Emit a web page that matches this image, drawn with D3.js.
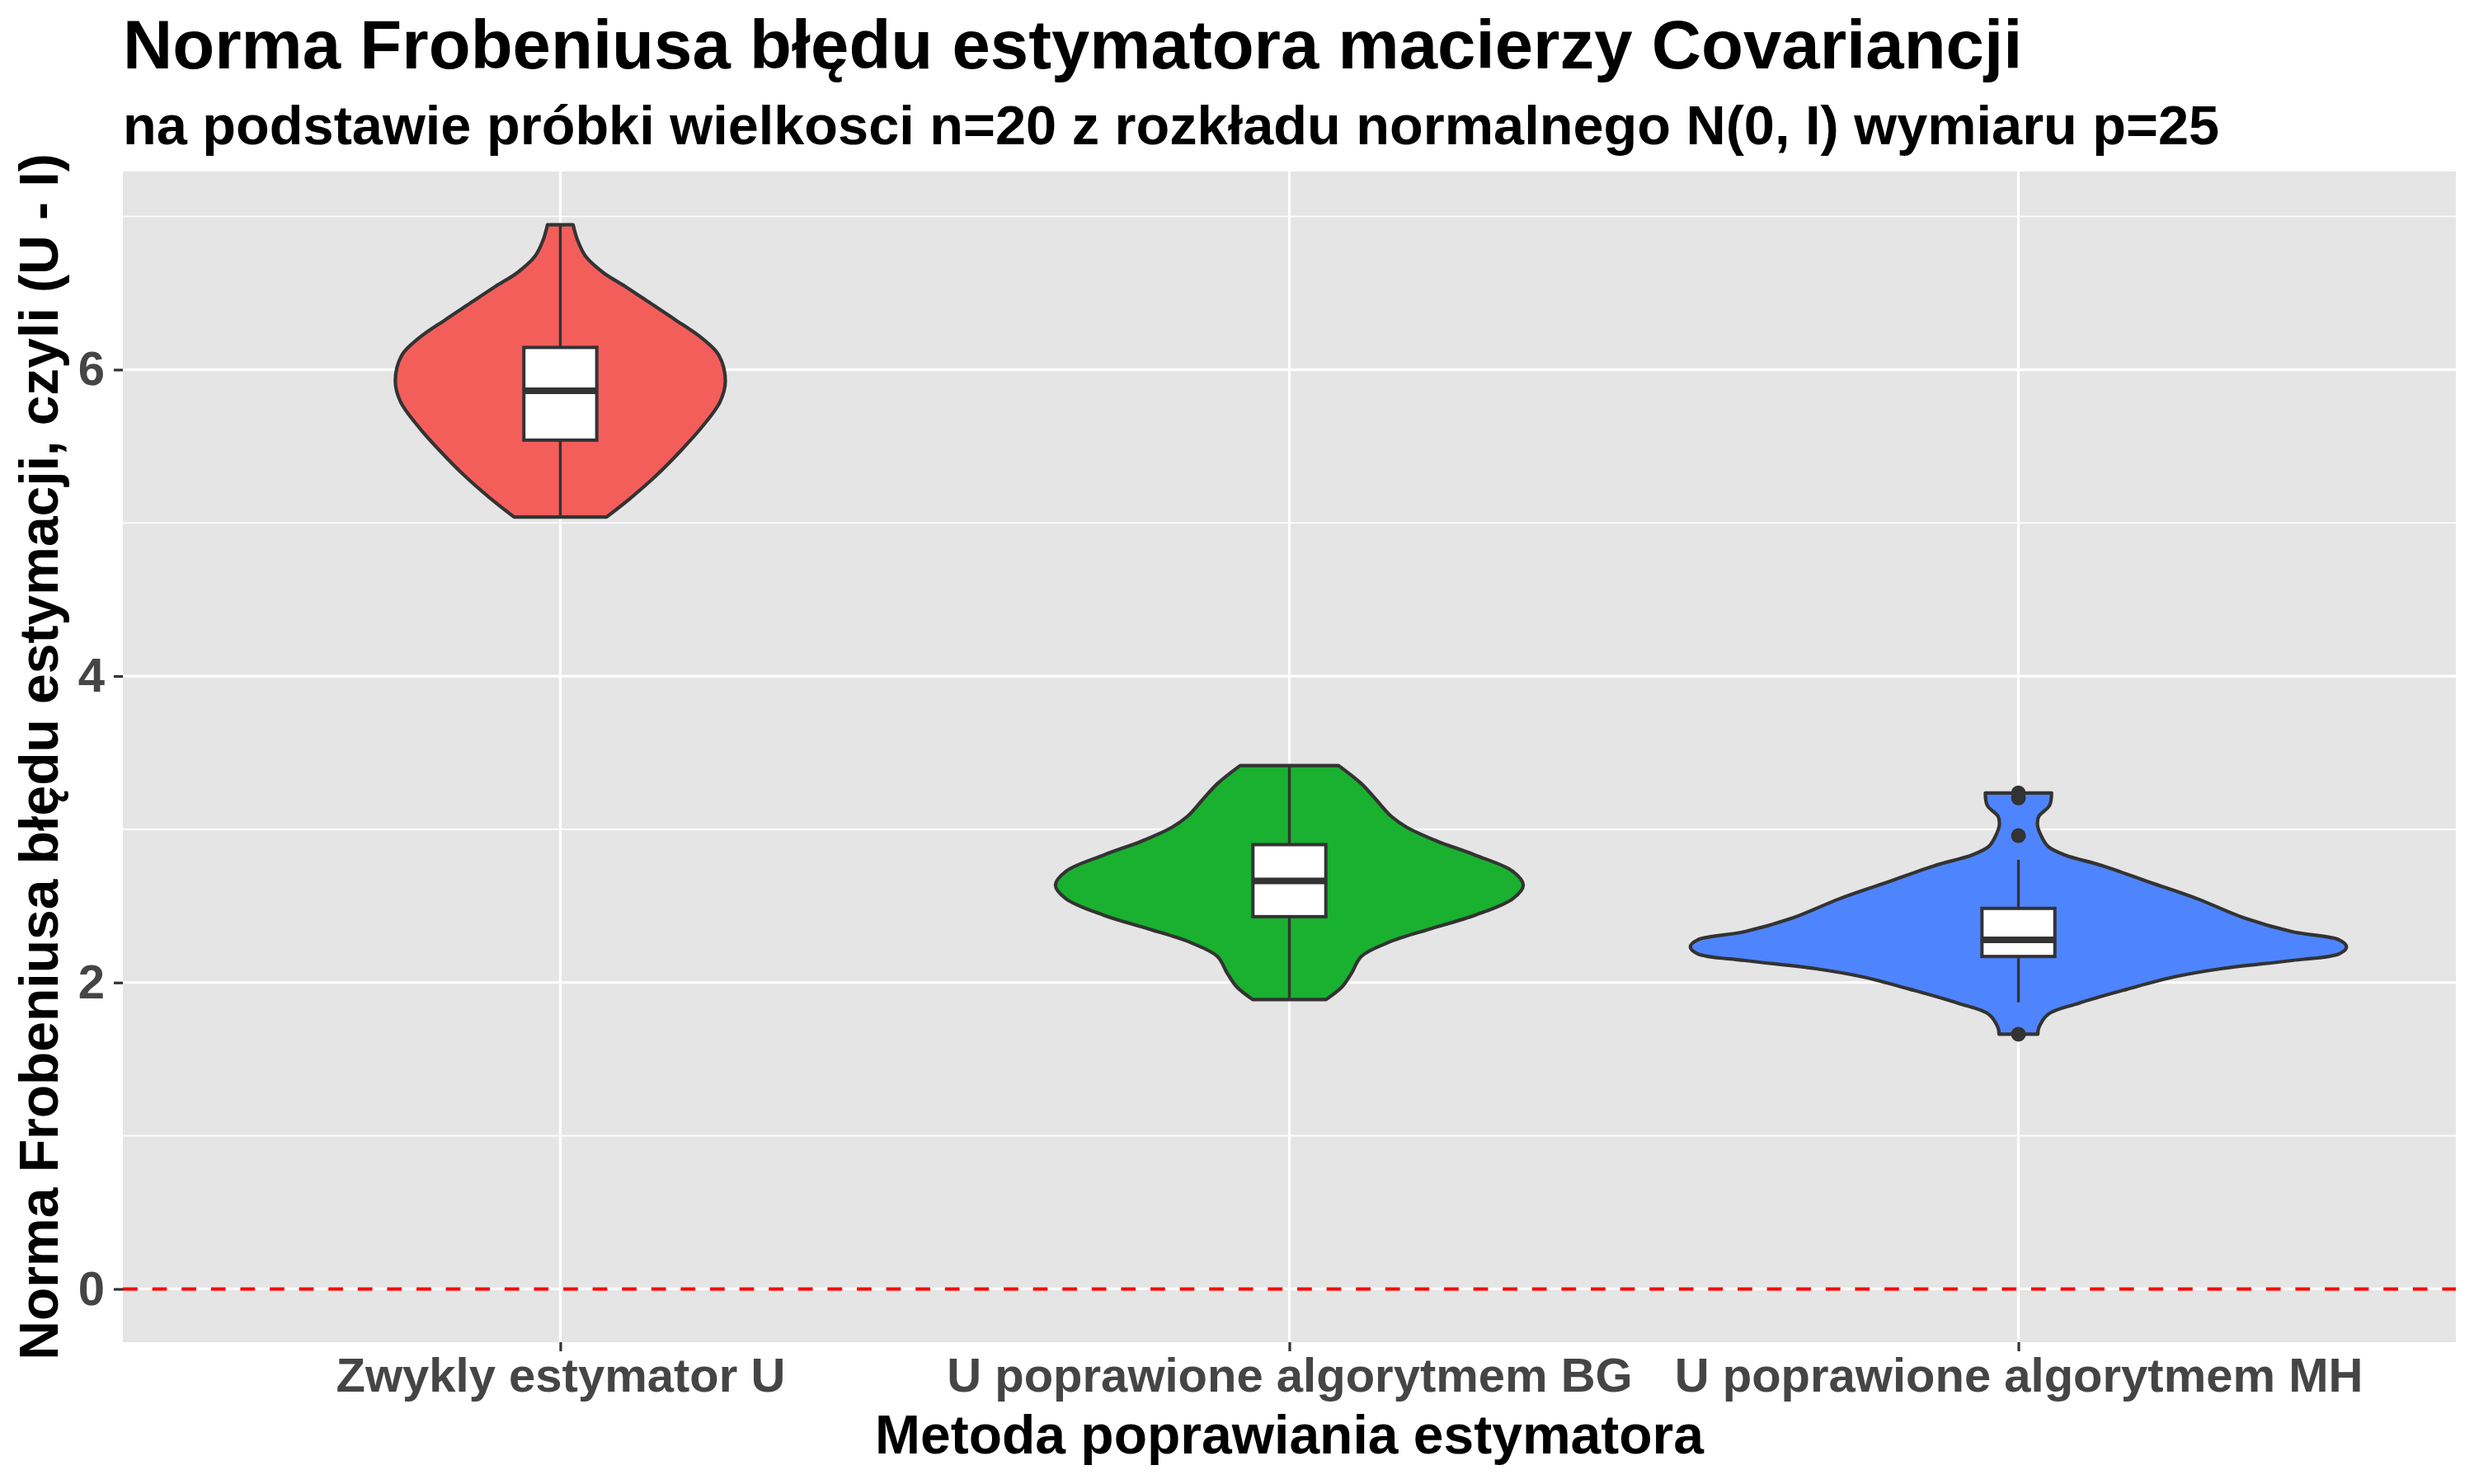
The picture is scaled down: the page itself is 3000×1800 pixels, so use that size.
<!DOCTYPE html>
<html>
<head>
<meta charset="utf-8">
<script src="https://cdn.jsdelivr.net/npm/d3@7"></script>
<style>
  html, body { margin: 0; padding: 0; background: #ffffff; }
  svg { display: block; }
  text { font-family: "Liberation Sans", Arial, Helvetica, sans-serif; font-weight: bold; }
</style>
</head>
<body>
<script>
// ---------------- DATA ----------------
const titleText = "Norma Frobeniusa błędu estymatora macierzy Covariancji";
const subtitleText = "na podstawie próbki wielkosci n=20 z rozkładu normalnego N(0, I) wymiaru p=25";
const xTitle = "Metoda poprawiania estymatora";
const yTitle = "Norma Frobeniusa błędu estymacji, czyli (U - I)";

const categories = ["Zwykly estymator U", "U poprawione algorytmem BG", "U poprawione algorytmem MH"];
const fillColors = ["#F35E5B", "#19B12F", "#4E85FF"];

// violin density profiles: [value, relative density]
const densityU = [
  [5.038, 0.141], [5.163, 0.215], [5.306, 0.291], [5.468, 0.366], [5.629, 0.433],
  [5.790, 0.487], [5.925, 0.503], [6.095, 0.483], [6.203, 0.433], [6.328, 0.349],
  [6.435, 0.274], [6.543, 0.198], [6.633, 0.131], [6.740, 0.077], [6.848, 0.052],
  [6.946, 0.039]
];
const densityBG = [
  [1.889, 0.112], [1.973, 0.161], [2.063, 0.190], [2.170, 0.219], [2.260, 0.300],
  [2.349, 0.427], [2.439, 0.565], [2.547, 0.681], [2.637, 0.713], [2.726, 0.681],
  [2.833, 0.565], [2.923, 0.450], [3.013, 0.358], [3.084, 0.311], [3.192, 0.265],
  [3.299, 0.219], [3.416, 0.150]
];
const densityMH = [
  [1.663, 0.059], [1.704, 0.062], [1.794, 0.091], [1.866, 0.185], [1.955, 0.329],
  [2.036, 0.473], [2.090, 0.617], [2.144, 0.834], [2.188, 0.978], [2.233, 1.000],
  [2.278, 0.978], [2.332, 0.834], [2.421, 0.689], [2.547, 0.545], [2.654, 0.401],
  [2.762, 0.257], [2.833, 0.141], [2.887, 0.091], [2.959, 0.069], [3.031, 0.058],
  [3.084, 0.062], [3.156, 0.095], [3.237, 0.101]
];
const densities = [densityU, densityBG, densityMH];

// boxplot statistics
const whiskerLow  = [5.038, 1.889, 1.871];
const q1          = [5.540, 2.430, 2.170];
const medians     = [5.862, 2.663, 2.278];
const q3          = [6.145, 2.900, 2.484];
const whiskerHigh = [6.946, 3.416, 2.801];
const outliersMH  = [3.237, 3.205, 2.959, 1.663];
const outliers = [[], [], outliersMH];

const yTicks = [0, 2, 4, 6];
const yMinorTicks = [1, 3, 5, 7];
const referenceLine = 0;

// ---------------- LAYOUT ----------------
const W = 3000, H = 1800;
const panel = { left: 149, right: 2978, top: 208, bottom: 1628 };

const svg = d3.select("body").append("svg")
  .attr("width", W).attr("height", H)
  .attr("viewBox", `0 0 ${W} ${H}`);

svg.append("rect").attr("width", W).attr("height", H).attr("fill", "#ffffff");

// scales
const allVals = densities.flat().map(d => d[0]).concat([referenceLine]);
const lo = d3.min(allVals), hi = d3.max(allVals);
const pad = (hi - lo) * 0.05;
const y = d3.scaleLinear().domain([lo - pad, hi + pad]).range([panel.bottom, panel.top]);
const x = d3.scalePoint().domain(categories).range([panel.left, panel.right]).padding(0.6);
const step = x.step();
const maxDens = d3.max(densities.flat(), d => d[1]);
const wScale = d3.scaleLinear().domain([0, maxDens]).range([0, 0.45 * step]);

// panel background
svg.append("rect")
  .attr("x", panel.left).attr("y", panel.top)
  .attr("width", panel.right - panel.left).attr("height", panel.bottom - panel.top)
  .attr("fill", "#E5E5E5");

const grid = svg.append("g");
grid.selectAll("line.minor").data(yMinorTicks).join("line")
  .attr("x1", panel.left).attr("x2", panel.right)
  .attr("y1", d => y(d)).attr("y2", d => y(d))
  .attr("stroke", "#ffffff").attr("stroke-width", 1.6);
grid.selectAll("line.major").data(yTicks).join("line")
  .attr("x1", panel.left).attr("x2", panel.right)
  .attr("y1", d => y(d)).attr("y2", d => y(d))
  .attr("stroke", "#ffffff").attr("stroke-width", 3.2);
grid.selectAll("line.vx").data(categories).join("line")
  .attr("x1", d => x(d)).attr("x2", d => x(d))
  .attr("y1", panel.top).attr("y2", panel.bottom)
  .attr("stroke", "#ffffff").attr("stroke-width", 3.2);

// violins
const gV = svg.append("g");
categories.forEach((c, i) => {
  const cx = x(c);
  const area = d3.area()
    .y(d => y(d[0]))
    .x0(d => cx - wScale(d[1]))
    .x1(d => cx + wScale(d[1]))
    .curve(d3.curveCatmullRom.alpha(0.5));
  gV.append("path")
    .datum(densities[i])
    .attr("d", area)
    .attr("fill", fillColors[i])
    .attr("stroke", "#333333")
    .attr("stroke-width", 4.2)
    .attr("stroke-linejoin", "round");
});

// boxplots
const gB = svg.append("g");
const boxW = 0.1 * step;
categories.forEach((c, i) => {
  const cx = x(c);
  gB.append("line")
    .attr("x1", cx).attr("x2", cx)
    .attr("y1", y(q3[i])).attr("y2", y(whiskerHigh[i]))
    .attr("stroke", "#333333").attr("stroke-width", 3.4);
  gB.append("line")
    .attr("x1", cx).attr("x2", cx)
    .attr("y1", y(q1[i])).attr("y2", y(whiskerLow[i]))
    .attr("stroke", "#333333").attr("stroke-width", 3.4);
  gB.append("rect")
    .attr("x", cx - boxW / 2).attr("width", boxW)
    .attr("y", y(q3[i])).attr("height", y(q1[i]) - y(q3[i]))
    .attr("fill", "#ffffff").attr("stroke", "#333333").attr("stroke-width", 4);
  gB.append("line")
    .attr("x1", cx - boxW / 2).attr("x2", cx + boxW / 2)
    .attr("y1", y(medians[i])).attr("y2", y(medians[i]))
    .attr("stroke", "#333333").attr("stroke-width", 8);
  gB.selectAll(null).data(outliers[i]).join("circle")
    .attr("cx", cx).attr("cy", d => y(d)).attr("r", 9)
    .attr("fill", "#333333");
});

// reference line
svg.append("line")
  .attr("x1", panel.left).attr("x2", panel.right)
  .attr("y1", y(referenceLine)).attr("y2", y(referenceLine))
  .attr("stroke", "#FF0000").attr("stroke-width", 4)
  .attr("stroke-dasharray", "17.8,17.8");

// axes
const yAxis = d3.axisLeft(y).tickValues(yTicks).tickSize(11).tickPadding(11).tickFormat(d3.format("d"));
const gy = svg.append("g").attr("transform", `translate(${panel.left},0)`).call(yAxis);
gy.select(".domain").remove();
gy.selectAll(".tick line").attr("stroke", "#333333").attr("stroke-width", 3.2);
gy.selectAll(".tick text").attr("fill", "#454545").attr("font-size", 58)
  .style("font-family", "'Liberation Sans', Arial, sans-serif").style("font-weight", "bold");

const xAxis = d3.axisBottom(x).tickSize(11).tickPadding(8);
const gx = svg.append("g").attr("transform", `translate(0,${panel.bottom})`).call(xAxis);
gx.select(".domain").remove();
gx.selectAll(".tick line").attr("stroke", "#333333").attr("stroke-width", 3.2);
gx.selectAll(".tick text").attr("fill", "#454545").attr("font-size", 58)
  .style("font-family", "'Liberation Sans', Arial, sans-serif").style("font-weight", "bold");

// titles
svg.append("text").attr("x", panel.left).attr("y", 83)
  .attr("font-size", 83.4).attr("fill", "#000000").text(titleText);
svg.append("text").attr("x", panel.left).attr("y", 175)
  .attr("font-size", 66.7).attr("fill", "#000000").text(subtitleText);
svg.append("text")
  .attr("x", (panel.left + panel.right) / 2).attr("y", 1763)
  .attr("text-anchor", "middle").attr("font-size", 66).attr("fill", "#000000")
  .text(xTitle);
svg.append("text")
  .attr("transform", `translate(70,${(panel.top + panel.bottom) / 2}) rotate(-90)`)
  .attr("text-anchor", "middle").attr("font-size", 66).attr("fill", "#000000")
  .text(yTitle);
</script>
</body>
</html>
